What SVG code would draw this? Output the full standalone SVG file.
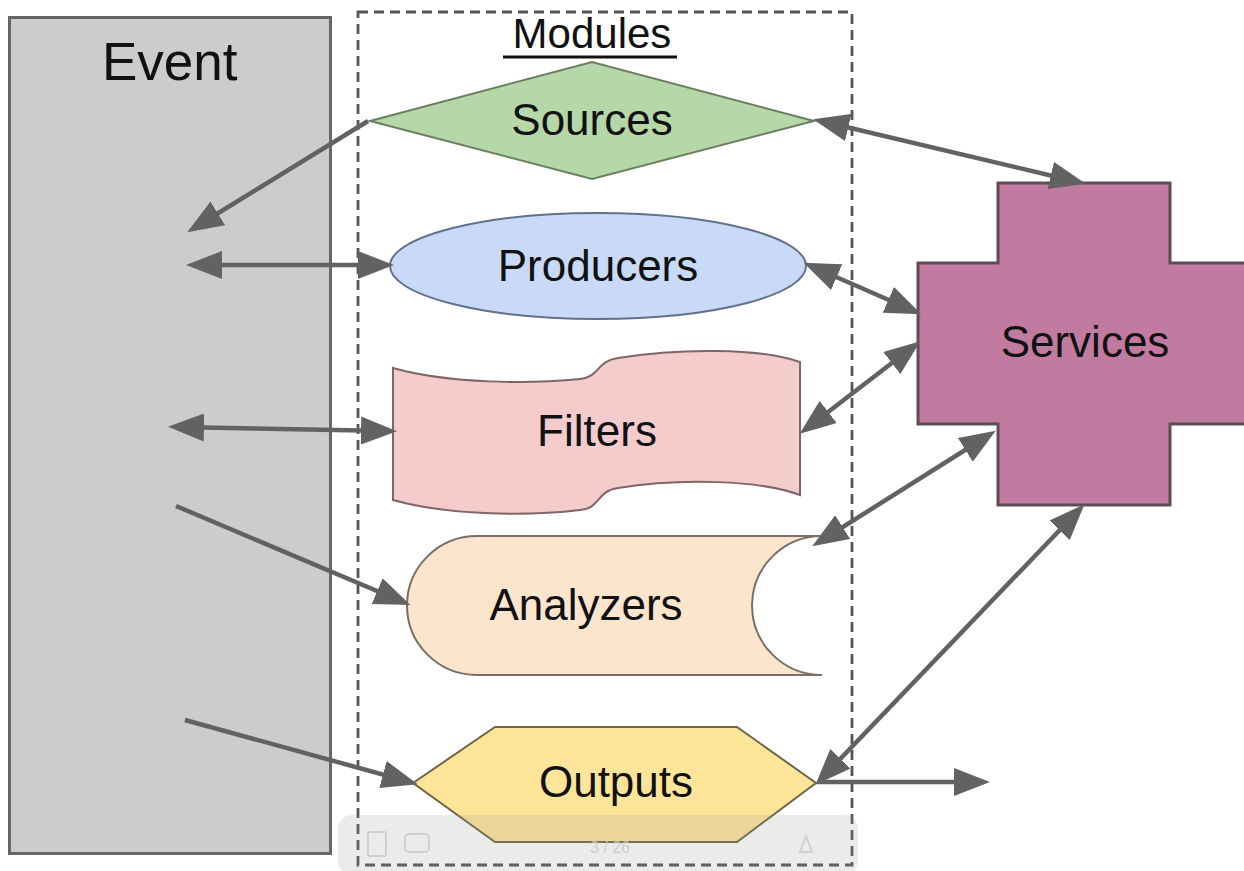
<svg xmlns="http://www.w3.org/2000/svg" width="1244" height="871" viewBox="0 0 1244 871">
<style>
text{font-family:"Liberation Sans",Arial,sans-serif;fill:#111}
.lbl{font-size:44px;text-anchor:middle}
.conn line{stroke:#626262;stroke-width:4.5;fill:none}
.one{marker-end:url(#ah)}
.two{marker-start:url(#ah);marker-end:url(#ah)}
</style>
<defs>
<marker id="ah" markerUnits="userSpaceOnUse" markerWidth="36" markerHeight="28" refX="28" refY="14" orient="auto-start-reverse">
<path d="M0,0 L36,14 L0,28 Z" fill="#626262"/>
</marker>
</defs>
<rect width="1244" height="871" fill="#ffffff"/>
<g id="event">
<rect x="9.5" y="17.5" width="321" height="836" fill="#cccccc" stroke="#666666" stroke-width="3"/>
<text x="102" y="80" font-size="53">Event</text>
</g>
<g id="modules">
<rect x="358" y="12" width="494" height="853" fill="none" stroke="#555555" stroke-width="2.8" stroke-dasharray="10 6"/>
<text x="592" y="48" font-size="42" text-anchor="middle">Modules</text>
<rect x="503" y="55.5" width="174" height="3" fill="#111"/>
</g>
<g id="sources">
<polygon points="370,121 592,62 814,121 592,179" fill="#b6d7a8" stroke="#6b7f60" stroke-width="2"/>
<text class="lbl" x="592" y="135">Sources</text>
</g>
<g id="producers">
<ellipse cx="598" cy="266" rx="208" ry="53" fill="#c9daf8" stroke="#62708a" stroke-width="2"/>
<text class="lbl" x="598" y="281">Producers</text>
</g>
<g id="filters">
<path d="M393,368 C450,384 530,384 580,379 C600,377 596,361 618,358 C680,348 760,348 800,362 L800,495 C760,480 680,478 618,488 C596,491 600,509 580,510 C530,516 450,516 393,500 Z" fill="#f4cccc" stroke="#7f6666" stroke-width="2"/>
<text class="lbl" x="597" y="446">Filters</text>
</g>
<g id="analyzers">
<path d="M477,536 L822,536 A70,69.5 0 0 0 822,675 L477,675 A70,69.5 0 0 1 477,536 Z" fill="#fce5cd" stroke="#7a6f66" stroke-width="2"/>
<text class="lbl" x="586" y="620">Analyzers</text>
</g>
<g id="outputs">
<polygon points="413,783 495,727 737,727 816,783 737,842 495,842" fill="#ffe599" stroke="#6e6646" stroke-width="2"/>
<text class="lbl" x="616" y="797">Outputs</text>
</g>
<g id="services">
<polygon points="998,183 1170,183 1170,263 1252,263 1252,424 1170,424 1170,505 998,505 998,424 918,424 918,263 998,263" fill="#c27ba0" stroke="#5c4e56" stroke-width="3"/>
<text class="lbl" x="1085" y="357">Services</text>
</g>
<g id="connectors" class="conn">
<line class="one" x1="368" y1="121" x2="194" y2="228"/>
<line class="two" x1="194" y1="265" x2="386" y2="265"/>
<line class="two" x1="176" y1="427" x2="389" y2="431"/>
<line class="one" x1="176" y1="506" x2="403" y2="602"/>
<line class="one" x1="185" y1="720" x2="410" y2="782"/>
<line class="two" x1="821" y1="121" x2="1078" y2="182"/>
<line class="two" x1="811" y1="266" x2="914" y2="311"/>
<line class="two" x1="806" y1="429" x2="914" y2="346"/>
<line class="two" x1="819" y1="542" x2="989" y2="435"/>
<line class="two" x1="821" y1="779" x2="1079" y2="510"/>
<line class="one" x1="818" y1="782" x2="982" y2="782"/>
</g>
<g id="toolbar" opacity="0.9">
<rect x="338" y="815" width="520" height="60" rx="14" fill="#9a9a9a" fill-opacity="0.22"/>
<rect x="368" y="832" width="18" height="24" rx="2" fill="none" stroke="#cccccc" stroke-width="2"/>
<rect x="405" y="834" width="24" height="18" rx="4" fill="none" stroke="#cccccc" stroke-width="2"/>
<text x="610" y="853" font-size="16" text-anchor="middle" style="fill:#c8c8c8">3  /  26</text>
<path d="M800,852 L806,836 L812,852 Z" fill="none" stroke="#cccccc" stroke-width="2"/>
</g>
</svg>
